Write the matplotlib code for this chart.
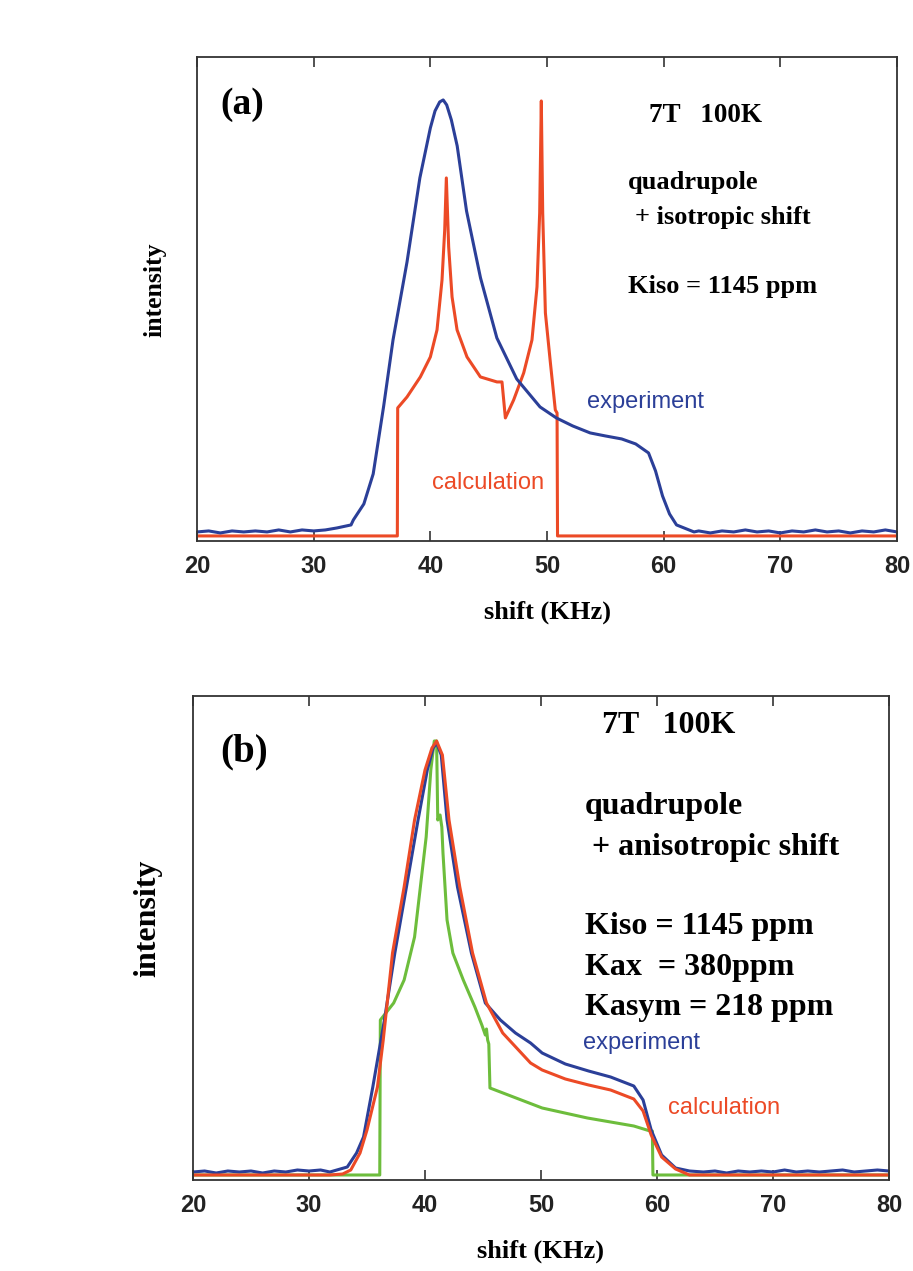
import matplotlib.pyplot as plt

# panel (a): quadrupole + isotropic shift
a_exp_x = [20, 21, 22, 23, 24, 25, 26, 27, 28, 29, 30, 31, 32, 33.2, 33.4, 34.3, 35.1, 36.0,
           36.8, 38.0, 39.1, 40.0, 40.4, 40.8, 41.1, 41.4, 41.8, 42.3, 43.1, 44.3, 45.7, 47.4,
           49.4, 50.8, 52.2, 53.7, 55.0, 56.4, 57.6, 58.7, 59.3, 59.9, 60.5, 61.1, 62.6, 63,
           64, 65, 66, 67, 68, 69, 70, 71, 72, 73, 74, 75, 76, 77, 78, 79, 80]
a_exp_y = [4, 5, 3, 5, 4, 5, 4, 6, 4, 6, 5, 6, 8, 11, 16, 32, 62, 130,
           196, 274, 358, 408, 425, 434, 436, 431, 416, 390, 325, 258, 198, 157,
           129, 118, 110, 103, 100, 97, 92, 83, 65, 40, 22, 11, 4, 5,
           3, 5, 4, 6, 4, 5, 3, 5, 4, 6, 4, 5, 3, 5, 4, 6, 4]

a_calc_x = [20, 37.17, 37.2, 38.0, 39.14, 40.0, 40.57, 41.0, 41.23, 41.37, 41.57, 41.86, 42.29,
            43.14, 44.29, 45.71, 46.14, 46.43, 47.14, 48.0, 48.71, 49.14, 49.37, 49.51, 49.63,
            49.86, 50.29, 50.71, 50.86, 50.9, 80]
a_calc_y = [0, 0, 128, 139, 159, 179, 206, 256, 306, 358, 289, 239, 206,
            179, 159, 154, 154, 118, 136, 163, 196, 249, 323, 435, 323,
            223, 173, 126, 123, 0, 0]

# panel (b): quadrupole + anisotropic shift
b_exp_x = [20, 21, 22, 23, 24, 25, 26, 27, 28, 29, 30, 31, 31.8, 33.3, 34.1, 34.7, 35.5, 36.5,
           37.4, 38.4, 39.4, 40.2, 40.7, 41.0, 41.4, 41.9, 42.8, 44.0, 45.2, 46.5, 47.8, 49.1,
           50.1, 52.1, 54.1, 56.0, 58.0, 58.8, 59.5, 60.4, 61.6, 62.8, 64, 65, 66, 67, 68, 69,
           70, 71, 72, 73, 74, 75, 76, 77, 78, 79, 80]
b_exp_y = [3, 4, 2, 4, 3, 4, 2, 4, 3, 5, 4, 5, 3, 8, 22, 38, 88, 155,
           222, 288, 355, 405, 427, 432, 420, 355, 288, 222, 172, 155, 142, 132,
           122, 111, 104, 98, 89, 75, 45, 20, 7, 4, 3, 4, 2, 4, 3, 4,
           3, 5, 3, 4, 3, 4, 5, 3, 4, 5, 4]

b_calc_x = [20, 31.8, 32.9, 33.6, 34.4, 35.0, 35.9, 36.4, 37.2, 38.2, 39.1, 40.0, 40.6, 41.0,
            41.5, 42.07, 43.0, 44.1, 45.3, 46.7, 49.1, 50.1, 52.1, 54.1, 56.0, 58.0, 58.8,
            59.5, 60.4, 61.6, 62.8, 80]
b_calc_y = [0, 0, 1, 5, 22, 45, 88, 135, 222, 288, 355, 405, 427, 434,
            420, 355, 288, 222, 172, 142, 112, 105, 96, 90, 85, 76, 64,
            40, 18, 6, 0, 0]

b_green_x = [20, 36.1, 36.15, 37.3, 38.2, 39.1, 39.6, 40.1, 40.5, 40.8, 41.0, 41.1, 41.3,
             41.45, 41.55, 41.9, 42.4, 43.3, 44.3, 44.9, 45.2, 45.3, 45.4, 45.5, 45.6, 50.1,
             54.0, 58.0, 59.4, 59.6, 59.65, 80]
b_green_y = [0, 0, 155, 172, 195, 238, 288, 338, 405, 434, 434, 355, 360,
             348, 322, 255, 222, 195, 168, 150, 140, 146, 135, 131, 87, 67,
             57, 49, 44, 44, 0, 0]

xticks = [20, 30, 40, 50, 60, 70, 80]

blue = '#2b3f98'
red = '#ec4a26'
green = '#6dbd3c'
serif = 'Liberation Serif'
sans = 'Liberation Sans'

fig = plt.figure(figsize=(9.13, 12.71), dpi=100)
ax1 = fig.add_axes([0.2158, 0.5744, 0.7667, 0.3808])
ax2 = fig.add_axes([0.2114, 0.0716, 0.7623, 0.3808])

ax1.plot(a_calc_x, a_calc_y, color=red, lw=2.2)
ax1.plot(a_exp_x, a_exp_y, color=blue, lw=2.2)

ax2.plot(b_green_x, b_green_y, color=green, lw=2.2)
ax2.plot(b_exp_x, b_exp_y, color=blue, lw=2.2)
ax2.plot(b_calc_x, b_calc_y, color=red, lw=2.2)

for ax in (ax1, ax2):
    ax.set_xlim(20, 80)
    ax.set_ylim(-5, 479)
    ax.set_xticks(xticks)
    ax.set_yticks([])
    ax.tick_params(axis='x', direction='in', top=True, bottom=True, length=7, width=1.2,
                   color='#333333', pad=10, labelsize=17)
    for lab in ax.get_xticklabels():
        lab.set_family(sans)
        lab.set_fontweight('bold')
        lab.set_color('#222222')
    for s in ax.spines.values():
        s.set_color('#333333')
        s.set_linewidth(1.3)
    ax.set_xlabel('shift (KHz)', family=serif, fontweight='bold', fontsize=19, va='center')
    ax.xaxis.set_label_coords(0.5, -0.147)

ax1.set_ylabel('intensity', family=serif, fontweight='bold', fontsize=18.5, va='center')
ax1.yaxis.set_label_coords(-0.060, 0.519)
ax2.set_ylabel('intensity', family=serif, fontweight='bold', fontsize=23, va='center')
ax2.yaxis.set_label_coords(-0.065, 0.540)

# panel (a) annotations
t = ax1.transAxes
ax1.text(0.064, 0.901, '(a)', transform=t, family=serif, fontweight='bold', fontsize=27,
         ha='center', va='center')
ax1.text(0.727, 0.880, '7T   100K', transform=t, family=serif, fontweight='bold', fontsize=19.5,
         ha='center', va='center')
ax1.text(0.616, 0.740, 'quadrupole', transform=t, family=serif, fontweight='bold', fontsize=19,
         ha='left', va='center')
ax1.text(0.626, 0.669, '+ isotropic shift', transform=t, family=serif, fontweight='bold',
         fontsize=19, ha='left', va='center')
ax1.text(0.616, 0.525, 'Kiso = 1145 ppm', transform=t, family=serif, fontweight='bold',
         fontsize=19, ha='left', va='center')
ax1.text(0.557, 0.287, 'experiment', transform=t, family=sans, color=blue, fontsize=17,
         ha='left', va='center')
ax1.text(0.336, 0.120, 'calculation', transform=t, family=sans, color=red, fontsize=17,
         ha='left', va='center')

# panel (b) annotations
t = ax2.transAxes
ax2.text(0.073, 0.884, '(b)', transform=t, family=serif, fontweight='bold', fontsize=28,
         ha='center', va='center')
ax2.text(0.683, 0.940, '7T   100K', transform=t, family=serif, fontweight='bold', fontsize=23,
         ha='center', va='center')
ax2.text(0.563, 0.771, 'quadrupole', transform=t, family=serif, fontweight='bold', fontsize=23,
         ha='left', va='center')
ax2.text(0.573, 0.688, '+ anisotropic shift', transform=t, family=serif, fontweight='bold',
         fontsize=23, ha='left', va='center')
ax2.text(0.563, 0.523, 'Kiso = 1145 ppm', transform=t, family=serif, fontweight='bold',
         fontsize=23, ha='left', va='center')
ax2.text(0.563, 0.440, 'Kax  = 380ppm', transform=t, family=serif, fontweight='bold',
         fontsize=23, ha='left', va='center')
ax2.text(0.563, 0.357, 'Kasym = 218 ppm', transform=t, family=serif, fontweight='bold',
         fontsize=23, ha='left', va='center')
ax2.text(0.560, 0.283, 'experiment', transform=t, family=sans, color=blue, fontsize=17,
         ha='left', va='center')
ax2.text(0.682, 0.149, 'calculation', transform=t, family=sans, color=red, fontsize=17,
         ha='left', va='center')

plt.savefig('out.png', dpi=100)
